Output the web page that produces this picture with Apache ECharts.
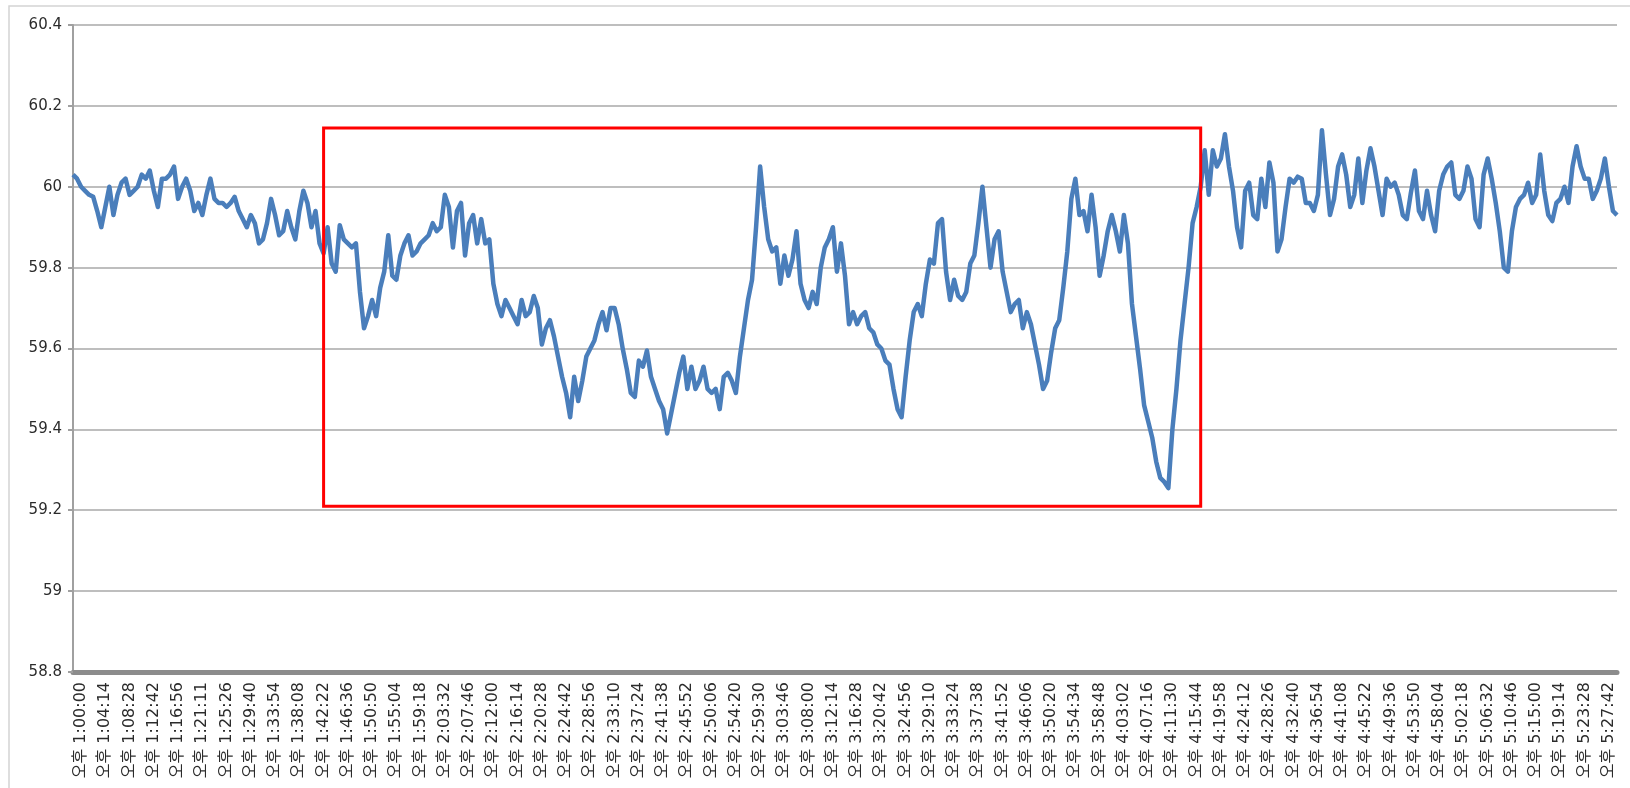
<!DOCTYPE html>
<html>
<head>
<meta charset="utf-8">
<title>frequency</title>
<script src="https://cdn.jsdelivr.net/npm/echarts@6/dist/echarts.min.js"></script>
<style type="text/css">
html,body{margin:0;padding:0;background:#fff;}
#chart{width:1630px;height:788px;}
</style>
</head>
<body>
<div id="chart"></div>
<script type="text/javascript">
// axis labels as printed under the chart (every 6th sample)
var tickLabels = [
	'오후 1:00:00', '오후 1:04:14', '오후 1:08:28', '오후 1:12:42', '오후 1:16:56', '오후 1:21:11', '오후 1:25:26', '오후 1:29:40',
	'오후 1:33:54', '오후 1:38:08', '오후 1:42:22', '오후 1:46:36', '오후 1:50:50', '오후 1:55:04', '오후 1:59:18', '오후 2:03:32',
	'오후 2:07:46', '오후 2:12:00', '오후 2:16:14', '오후 2:20:28', '오후 2:24:42', '오후 2:28:56', '오후 2:33:10', '오후 2:37:24',
	'오후 2:41:38', '오후 2:45:52', '오후 2:50:06', '오후 2:54:20', '오후 2:59:30', '오후 3:03:46', '오후 3:08:00', '오후 3:12:14',
	'오후 3:16:28', '오후 3:20:42', '오후 3:24:56', '오후 3:29:10', '오후 3:33:24', '오후 3:37:38', '오후 3:41:52', '오후 3:46:06',
	'오후 3:50:20', '오후 3:54:34', '오후 3:58:48', '오후 4:03:02', '오후 4:07:16', '오후 4:11:30', '오후 4:15:44', '오후 4:19:58',
	'오후 4:24:12', '오후 4:28:26', '오후 4:32:40', '오후 4:36:54', '오후 4:41:08', '오후 4:45:22', '오후 4:49:36', '오후 4:53:50',
	'오후 4:58:04', '오후 5:02:18', '오후 5:06:32', '오후 5:10:46', '오후 5:15:00', '오후 5:19:14', '오후 5:23:28', '오후 5:27:42'
];

// frequency (Hz)
var freq = [
	60.03, 60.02, 60.00, 59.99, 59.98, 59.975, 59.94, 59.90, 59.95, 60.00,
	59.93, 59.98, 60.01, 60.02, 59.98, 59.99, 60.00, 60.03, 60.02, 60.04,
	59.99, 59.95, 60.02, 60.02, 60.03, 60.05, 59.97, 60.00, 60.02, 59.99,
	59.94, 59.96, 59.93, 59.98, 60.02, 59.97, 59.96, 59.96, 59.95, 59.96,
	59.975, 59.94, 59.92, 59.90, 59.93, 59.91, 59.86, 59.87, 59.91, 59.97,
	59.93, 59.88, 59.89, 59.94, 59.90, 59.87, 59.94, 59.99, 59.96, 59.90,
	59.94, 59.86, 59.835, 59.90, 59.81, 59.79, 59.905, 59.87, 59.86, 59.85,
	59.86, 59.74, 59.65, 59.68, 59.72, 59.68, 59.75, 59.79, 59.88, 59.78,
	59.77, 59.83, 59.86, 59.88, 59.83, 59.84, 59.86, 59.87, 59.88, 59.91,
	59.89, 59.90, 59.98, 59.95, 59.85, 59.94, 59.96, 59.83, 59.91, 59.93,
	59.86, 59.92, 59.86, 59.87, 59.76, 59.71, 59.68, 59.72, 59.70, 59.68,
	59.66, 59.72, 59.68, 59.69, 59.73, 59.70, 59.61, 59.65, 59.67, 59.63,
	59.58, 59.53, 59.49, 59.43, 59.53, 59.47, 59.52, 59.58, 59.60, 59.62,
	59.66, 59.69, 59.645, 59.70, 59.70, 59.66, 59.60, 59.55, 59.49, 59.48,
	59.57, 59.555, 59.595, 59.53, 59.50, 59.47, 59.45, 59.39, 59.44, 59.49,
	59.54, 59.58, 59.50, 59.555, 59.50, 59.52, 59.555, 59.50, 59.49, 59.50,
	59.45, 59.53, 59.54, 59.52, 59.49, 59.58, 59.65, 59.72, 59.77, 59.90,
	60.05, 59.95, 59.87, 59.84, 59.85, 59.76, 59.83, 59.78, 59.82, 59.89,
	59.76, 59.72, 59.70, 59.74, 59.71, 59.80, 59.85, 59.87, 59.90, 59.79,
	59.86, 59.78, 59.66, 59.69, 59.66, 59.68, 59.69, 59.65, 59.64, 59.61,
	59.60, 59.57, 59.56, 59.50, 59.45, 59.43, 59.53, 59.62, 59.69, 59.71,
	59.68, 59.76, 59.82, 59.81, 59.91, 59.92, 59.79, 59.72, 59.77, 59.73,
	59.72, 59.74, 59.81, 59.83, 59.91, 60.00, 59.90, 59.80, 59.87, 59.89,
	59.79, 59.74, 59.69, 59.71, 59.72, 59.65, 59.69, 59.66, 59.61, 59.56,
	59.50, 59.52, 59.59, 59.65, 59.67, 59.75, 59.84, 59.97, 60.02, 59.93,
	59.94, 59.89, 59.98, 59.90, 59.78, 59.83, 59.89, 59.93, 59.89, 59.84,
	59.93, 59.86, 59.71, 59.63, 59.55, 59.46, 59.42, 59.38, 59.32, 59.28,
	59.27, 59.255, 59.40, 59.50, 59.62, 59.71, 59.80, 59.91, 59.95, 60.00,
	60.09, 59.98, 60.09, 60.05, 60.07, 60.13, 60.05, 59.99, 59.90, 59.85,
	59.99, 60.01, 59.93, 59.92, 60.02, 59.95, 60.06, 60.01, 59.84, 59.87,
	59.95, 60.02, 60.01, 60.025, 60.02, 59.96, 59.96, 59.94, 59.98, 60.14,
	60.03, 59.93, 59.97, 60.05, 60.08, 60.03, 59.95, 59.98, 60.07, 59.96,
	60.04, 60.095, 60.05, 59.99, 59.93, 60.02, 60.00, 60.01, 59.98, 59.93,
	59.92, 59.985, 60.04, 59.94, 59.92, 59.99, 59.93, 59.89, 59.99, 60.03,
	60.05, 60.06, 59.98, 59.97, 59.99, 60.05, 60.02, 59.92, 59.90, 60.03,
	60.07, 60.02, 59.96, 59.89, 59.80, 59.79, 59.89, 59.95, 59.97, 59.98,
	60.01, 59.96, 59.98, 60.08, 59.99, 59.93, 59.915, 59.96, 59.97, 60.00,
	59.96, 60.05, 60.10, 60.05, 60.02, 60.02, 59.97, 59.99, 60.02, 60.07,
	60.00, 59.94, 59.93
];

// highlighted window (sample index / Hz)
var boxFrom = [62, 60.145];
var boxTo = [279, 59.21];

var step = 6;
var categories = freq.map(function (v, i) {
	return (i % step === 0 && tickLabels[i / step]) ? tickLabels[i / step] : '';
});

var myChart = echarts.init(document.getElementById('chart'));
myChart.setOption({
	animation: false,
	graphic: [{
		type: 'rect',
		shape: { x: 9, y: 6, width: 1660, height: 820 },
		style: { fill: 'none', stroke: '#d4d4d4', lineWidth: 1.5 },
		silent: true
	}],
	grid: { left: 73, right: 13, top: 25, bottom: 116 },
	xAxis: {
		type: 'category',
		data: categories,
		boundaryGap: false,
		axisLine: { lineStyle: { color: '#8c8c8c', width: 5 } },
		axisTick: { show: false },
		splitLine: { show: false },
		axisLabel: {
			interval: function (i) { return i % step === 0 && i / step < tickLabels.length; },
			rotate: 90,
			verticalAlign: 'top',
			margin: 10,
			fontSize: 16,
			color: '#2b2b2b',
			fontFamily: 'DejaVu Sans, Noto Sans CJK KR'
		}
	},
	yAxis: {
		type: 'value',
		min: 58.8,
		max: 60.4,
		interval: 0.2,
		axisLine: { show: true, lineStyle: { color: '#a0a0a0', width: 2 } },
		axisTick: { show: true, length: 5, lineStyle: { color: '#a0a0a0', width: 2 } },
		splitLine: { lineStyle: { color: '#a8a8a8', width: 1.5 } },
		axisLabel: {
			margin: 11,
			fontSize: 15,
			color: '#2b2b2b',
			fontFamily: 'DejaVu Sans'
		}
	},
	series: [{
		type: 'line',
		data: freq,
		showSymbol: false,
		lineStyle: { color: '#4a7ebb', width: 4.5, join: 'round' },
		markArea: {
			silent: true,
			z: 5,
			itemStyle: { color: 'rgba(0,0,0,0)', borderColor: '#ff0000', borderWidth: 3 },
			data: [[
				{ xAxis: boxFrom[0], yAxis: boxFrom[1] },
				{ xAxis: boxTo[0], yAxis: boxTo[1] }
			]]
		}
	}]
});
</script>
</body>
</html>
